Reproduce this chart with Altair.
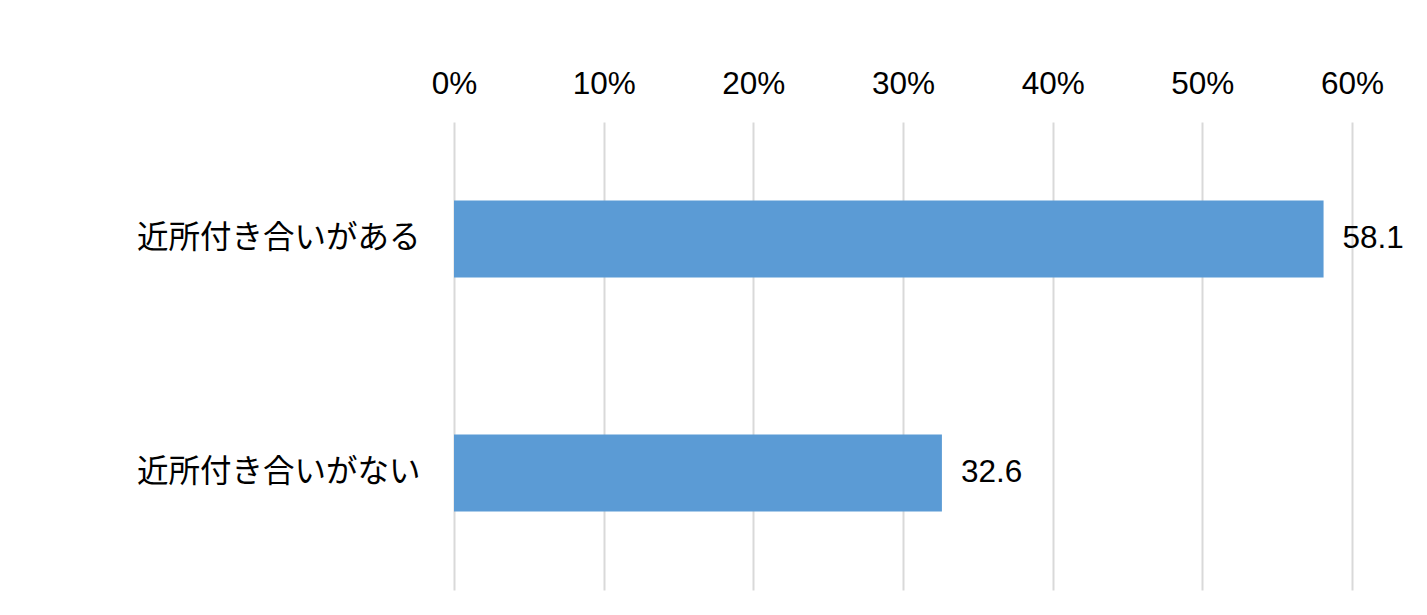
import altair as alt
import pandas as pd

categories = ["近所付き合いがある", "近所付き合いがない"]
values = [58.1, 32.6]
x_ticks = [0, 10, 20, 30, 40, 50, 60]

df = pd.DataFrame({"cat": categories, "val": values})

base = alt.Chart(df).encode(
    y=alt.Y(
        "cat:N",
        sort=categories,
        title=None,
        scale=alt.Scale(paddingInner=0.67, paddingOuter=0.335),
        axis=alt.Axis(
            domain=False, ticks=False, grid=False,
            labelFont="Noto Sans CJK JP", labelFontSize=31.5, labelColor="#000000",
            labelPadding=34, labelLimit=500,
        ),
    ),
    x=alt.X(
        "val:Q",
        title=None,
        scale=alt.Scale(domain=[0, 60], nice=False),
        axis=alt.Axis(
            orient="top", values=x_ticks, labelExpr="datum.value + '%'",
            domain=False, ticks=False, grid=True, gridColor="#d9d9d9", gridWidth=2,
            labelFont="Liberation Sans", labelFontSize=31.5, labelColor="#000000",
            labelPadding=22, labelFlush=False,
        ),
    ),
)

bars = base.mark_bar(color="#5B9BD5")
labels = base.mark_text(
    align="left", baseline="middle", dx=19,
    font="Liberation Sans", fontSize=31.5, color="#000000",
).encode(text=alt.Text("val:Q", format=".1f"))

chart = (bars + labels).properties(
    width=898, height=468,
    autosize=alt.AutoSizeParams(type="none"),
    padding={"left": 446, "top": 114, "right": 67, "bottom": 10},
).configure_view(stroke=None)

chart.save("out.html", embed_options={"renderer": "svg", "actions": False})
